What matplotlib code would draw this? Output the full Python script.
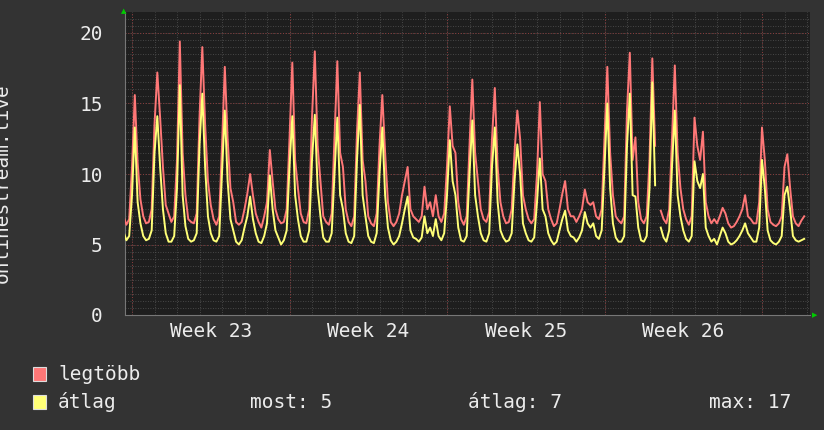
import numpy as np
import matplotlib.pyplot as plt

# 8 samples per day (every 3 hours), day 0 starts at the week 23 boundary
lead_red = [7.0, 7.0]
lead_avg = [6.1, 5.9]
legtobb_days = [
    [6.4, 6.8, 10.5, 15.6, 10.8, 8.2, 7.0, 6.5],
    [6.6, 7.5, 13.5, 17.2, 14.0, 10.5, 7.8, 7.2],
    [6.6, 7.0, 11.0, 19.4, 11.5, 8.5, 6.8, 6.6],
    [6.5, 7.2, 14.0, 19.0, 13.5, 9.5, 7.8, 6.8],
    [6.4, 7.0, 12.0, 17.6, 12.5, 9.0, 8.0, 6.6],
    [6.4, 6.6, 7.5, 8.6, 10.0, 8.5, 7.2, 6.6],
    [6.2, 7.0, 8.0, 11.7, 9.5, 7.5, 6.8, 6.5],
    [6.6, 7.5, 12.5, 17.9, 11.0, 9.0, 7.2, 6.6],
    [6.5, 7.5, 14.0, 18.7, 12.0, 9.5, 7.0, 6.6],
    [6.4, 7.2, 12.5, 18.0, 11.5, 10.5, 7.5, 6.6],
    [6.3, 7.0, 13.0, 17.2, 11.0, 9.5, 7.0, 6.5],
    [6.3, 7.2, 12.0, 15.6, 11.5, 8.0, 6.6, 6.3],
    [6.6, 7.2, 8.5, 9.5, 10.5, 7.5, 7.0, 6.8],
    [6.6, 7.0, 9.1, 7.5, 8.0, 7.0, 8.5, 7.0],
    [6.6, 7.2, 10.5, 14.8, 12.0, 11.5, 8.0, 6.8],
    [6.4, 7.0, 12.0, 16.7, 11.5, 9.5, 7.5, 6.8],
    [6.6, 7.3, 12.5, 16.1, 10.5, 8.0, 7.0, 6.5],
    [6.6, 7.5, 11.5, 14.5, 12.5, 8.5, 7.5, 6.8],
    [6.5, 6.8, 10.0, 15.1, 10.0, 9.5, 7.5, 6.8],
    [6.3, 6.5, 7.5, 8.6, 9.5, 7.5, 7.0, 7.0],
    [6.6, 7.0, 7.5, 8.9, 8.0, 7.8, 8.0, 7.0],
    [6.8, 7.5, 12.5, 17.6, 11.5, 8.5, 7.0, 6.7],
    [6.5, 7.0, 14.5, 18.6, 11.0, 12.6, 8.0, 6.8],
    [6.5, 7.0, 11.0, 18.2, 12.0, np.nan, 7.4, 6.8],
    [6.5, 7.5, 12.5, 17.7, 11.5, 9.0, 7.5, 6.8],
    [6.4, 7.0, 14.0, 12.0, 11.0, 13.0, 8.0, 7.0],
    [6.5, 6.8, 6.5, 7.0, 7.6, 7.2, 6.5, 6.2],
    [6.3, 6.6, 7.0, 7.5, 8.5, 7.0, 6.8, 6.5],
    [6.5, 8.0, 13.3, 11.0, 7.5, 6.6, 6.4, 6.3],
    [6.5, 7.0, 10.5, 11.4, 9.0, 7.0, 6.5, 6.3],
]
tail_red = [6.7, 7.0]

atlag_days = [
    [5.3, 5.6, 8.5, 13.3, 8.0, 6.5, 5.6, 5.3],
    [5.4, 6.0, 11.5, 14.1, 10.5, 7.5, 5.8, 5.2],
    [5.2, 5.6, 9.0, 16.3, 8.5, 6.3, 5.4, 5.2],
    [5.3, 5.8, 12.0, 15.7, 10.5, 7.0, 5.8, 5.3],
    [5.2, 5.6, 10.0, 14.5, 9.5, 6.8, 6.0, 5.2],
    [5.0, 5.3, 6.2, 7.0, 8.4, 6.8, 5.8, 5.2],
    [5.1, 5.6, 6.5, 9.9, 7.5, 6.0, 5.5, 5.0],
    [5.3, 6.0, 10.5, 14.1, 8.5, 6.8, 5.6, 5.2],
    [5.2, 6.0, 11.0, 14.2, 9.0, 7.0, 5.5, 5.2],
    [5.2, 5.8, 10.0, 14.0, 8.5, 7.5, 5.8, 5.2],
    [5.1, 5.6, 11.0, 14.9, 8.5, 7.0, 5.6, 5.2],
    [5.1, 5.8, 10.0, 13.3, 8.5, 6.2, 5.3, 5.0],
    [5.2, 5.6, 6.5, 7.5, 8.4, 6.0, 5.5, 5.4],
    [5.2, 5.5, 7.0, 5.8, 6.2, 5.6, 6.8, 5.6],
    [5.3, 5.8, 8.5, 12.4, 9.5, 8.5, 6.2, 5.3],
    [5.2, 5.6, 10.0, 13.8, 8.5, 7.0, 5.8, 5.3],
    [5.2, 5.8, 10.5, 13.3, 8.0, 6.0, 5.5, 5.2],
    [5.3, 5.8, 9.5, 12.1, 10.0, 6.5, 5.8, 5.3],
    [5.2, 5.5, 8.0, 11.1, 7.5, 7.0, 5.8, 5.3],
    [5.0, 5.2, 6.0, 6.8, 7.4, 6.0, 5.6, 5.5],
    [5.2, 5.5, 6.0, 7.3, 6.5, 6.2, 6.5, 5.6],
    [5.4, 6.0, 10.5, 15.0, 9.0, 6.5, 5.5, 5.2],
    [5.2, 5.6, 12.0, 15.7, 8.5, 8.4, 6.2, 5.3],
    [5.2, 5.6, 9.0, 16.5, 9.2, np.nan, 6.2, 5.5],
    [5.2, 6.0, 10.5, 14.5, 8.5, 7.0, 6.0, 5.4],
    [5.2, 5.6, 10.9, 9.5, 9.0, 10.0, 6.2, 5.6],
    [5.2, 5.4, 5.0, 5.6, 6.2, 5.8, 5.2, 5.0],
    [5.1, 5.3, 5.6, 6.0, 6.5, 5.8, 5.5, 5.2],
    [5.2, 6.2, 11.0, 9.0, 6.0, 5.3, 5.1, 5.0],
    [5.2, 5.6, 8.5, 9.1, 7.5, 5.6, 5.3, 5.2],
]
tail_avg = [5.3, 5.4]

legend_labels = ["legtöbb", "átlag"]
stats = ["most: 5", "átlag: 7", "max: 17"]
week_labels = ["Week 23", "Week 24", "Week 25", "Week 26"]
y_ticks = [0, 5, 10, 15, 20]

red = lead_red + [v for d in legtobb_days for v in d] + tail_red
avg = lead_avg + [v for d in atlag_days for v in d] + tail_avg
t = (np.arange(len(red)) - 2) / 8.0 + 0.75 - 1.0

bg = "#333333"
fg = "#ececec"
mono = "DejaVu Sans Mono"

fig = plt.figure(figsize=(8.24, 4.30), dpi=100, facecolor=bg)
ax = fig.add_axes([125 / 824, 115 / 430, 685 / 824, 303 / 430])
ax.set_facecolor("#1e1e1e")

xmin, xmax = -7 / 22.5, 678 / 22.5
ax.set_xlim(xmin, xmax)
ax.set_ylim(0, 303 / 14.1)

# grid
for d in range(0, 31):
    ax.axvline(d, color="#555555", lw=0.6, ls=(0, (1, 2)), zorder=1)
for y in np.arange(0.5, 21.5, 0.5):
    ax.axhline(y, color="#555555", lw=0.6, ls=(0, (1, 2)), zorder=1)
for d in range(0, 31, 7):
    ax.axvline(d, color="#8a3a3a", lw=0.7, ls=(0, (1, 2)), zorder=1)
for y in y_ticks[1:]:
    ax.axhline(y, color="#8a3a3a", lw=0.7, ls=(0, (1, 2)), zorder=1)

ax.plot(t, red, color="#ff7777", lw=1.4, zorder=3)
ax.plot(t, avg, color="#ffff77", lw=1.4, zorder=4)

for s in ["top", "right"]:
    ax.spines[s].set_visible(False)
ax.spines["left"].set_color("#777777")
ax.spines["bottom"].set_color("#777777")

ax.set_yticks(y_ticks)
ax.set_yticklabels([str(v) for v in y_ticks], fontsize=14, color=fg, family=mono)
ax.set_xticks([3.5 + 7 * i for i in range(len(week_labels))])
ax.set_xticklabels(week_labels, fontsize=14, color=fg, family=mono)
ax.tick_params(length=0, pad=5)
ax.tick_params(axis="y", pad=16)

ax.set_ylabel("onlinestream.live", fontsize=14, color=fg, family=mono)
ax.yaxis.set_label_coords(-113 / 685, 0.5 - 20 / 303)

# green arrow tips
fig.text(124 / 824, 1 - 11 / 430, "▲", color="#00cc00", fontsize=5, ha="center", va="center")
fig.text(815 / 824, 1 - 315 / 430, "▶", color="#00cc00", fontsize=5, ha="center", va="center")

# legend
colors = ["#ff7777", "#ffff77"]
for i, (lab, c) in enumerate(zip(legend_labels, colors)):
    yy = 1 - (374 + 28 * i) / 430
    fig.patches.append(plt.Rectangle((33 / 824, yy - 7 / 430), 13 / 824, 14 / 430,
                                     transform=fig.transFigure, facecolor=c,
                                     edgecolor="#dddddd", lw=0.8))
    fig.text(58 / 824, yy, lab, color=fg, fontsize=14, family=mono, va="center")
yy = 1 - 402 / 430
fig.text(250 / 824, yy, stats[0], color=fg, fontsize=14, family=mono, va="center")
fig.text(468 / 824, yy, stats[1], color=fg, fontsize=14, family=mono, va="center")
fig.text(791 / 824, yy, stats[2], color=fg, fontsize=14, family=mono, va="center", ha="right")

fig.savefig("out.png", dpi=100, facecolor=bg)
